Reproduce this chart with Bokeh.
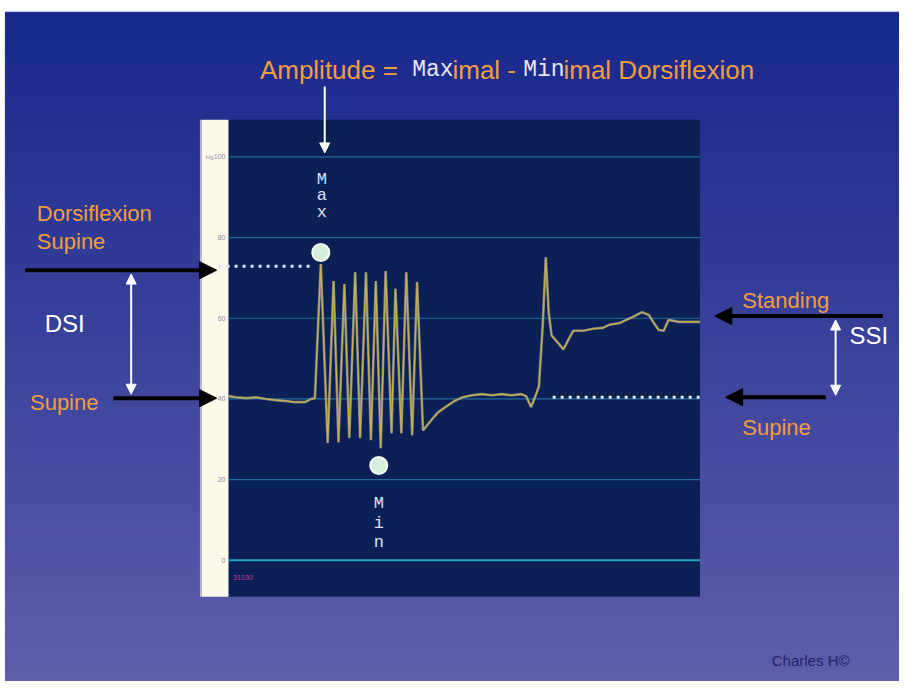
import numpy as np
from bokeh.plotting import figure
from bokeh.models import Range1d, Arrow, NormalHead
from bokeh.core.properties import value
from bokeh.embed import file_html
from bokeh.resources import INLINE

# ---------------- data ----------------
time_s = [0, 2, 4.5, 7, 9.5, 12, 14.5, 17, 19.5, 21,
          22, 23.5, 25.25, 26.75, 28, 29.5, 30.75, 32.25, 33.5, 35,
          36.25, 37.5, 38.75, 40, 41.5, 42.5, 44, 45.25, 46.75, 48,
          49.5, 51.5, 53.25, 55.25, 57.5, 59.5, 62, 64.5, 67, 69.5,
          72, 74.5, 75.75, 77, 78, 79, 80, 80.75, 81.5, 82.25,
          83.75, 85.25, 86.5, 87.75, 90.25, 92.75, 95.25, 97, 99.5, 101.25,
          103.25, 105.25, 107, 108.25, 109.5, 110.75, 112, 114.5, 117, 120]
pressure = [40.7, 40.4, 40.2, 40.4, 40.0, 39.7, 39.5, 39.2, 39.2, 40.0,
            40.2, 73.4, 29.1, 69.2, 29.3, 68.5, 30.3, 71.4, 30.3, 71.4,
            29.8, 69.2, 27.8, 71.7, 31.5, 67.3, 31.5, 71.4, 31.0, 69.0,
            32.2, 34.6, 36.6, 38.0, 39.5, 40.4, 40.9, 41.2, 40.9, 41.2,
            40.9, 41.2, 40.7, 38.0, 40.4, 43.1, 58.8, 75.1, 61.3, 55.7,
            54.0, 52.3, 54.7, 56.9, 56.9, 57.4, 57.6, 58.4, 58.8, 59.6,
            60.5, 61.5, 60.8, 58.8, 57.1, 56.9, 59.6, 59.1, 59.1, 59.1]

tick_values = [0, 20, 40, 60, 80, 100]
tick_labels = ["0", "20", "40", "60", "80", "100"]

marker_labels = ["Max", "Min"]
marker_t = [23.5, 38.25]
marker_v = [76.3, 23.5]

level_dorsiflexion_supine = 72.9
level_supine = 40.4
level_standing = 60.5

time_min, time_max = 0, 120
value_min, value_max = -9.0, 109.2

# ---------------- layout helpers (slide pixel -> data) ----------------
def T(px):
    return (px - 232) / 4.0

def V(py):
    return (573 - py) / 4.13

W, H = 899, 681
p = figure(width=W, height=H, output_backend="svg", toolbar_location=None,
           x_range=Range1d(T(0), T(915)), y_range=Range1d(V(697), V(0)),
           min_border=0, background_fill_color="white", border_fill_color="white")
p.axis.visible = False
p.grid.visible = False
p.outline_line_color = None

# slide background gradient
n = 80
edges = np.linspace(V(12), V(697) - 1, n + 1)
c_top = np.array([24, 40, 140])
c_bot = np.array([94, 94, 172])
cols = []
for i in range(n):
    f = i / (n - 1)
    c = (c_top * (1 - f) + c_bot * f).astype(int)
    cols.append("#%02x%02x%02x" % tuple(c))
p.quad(left=T(5), right=T(915) + 2, top=edges[:-1], bottom=edges[1:],
       fill_color=cols, line_color=cols, line_width=1)

# chart panel
p.quad(left=time_min, right=time_max, top=value_max, bottom=value_min,
       fill_color="#0b2155", line_color=None)
p.quad(left=T(205), right=time_min, top=value_max, bottom=value_min,
       fill_color="#fdf9e8", line_color=None)
p.segment(x0=T(204), y0=value_max, x1=T(204), y1=value_min,
          line_color="#b8b8c8", line_width=2)

# grid lines
grid_vals = [v for v in tick_values if v > 0]
p.segment(x0=[time_min] * len(grid_vals), y0=grid_vals,
          x1=[time_max] * len(grid_vals), y1=grid_vals,
          line_color="#2680b0", line_width=1.2, line_alpha=0.8)
p.segment(x0=[time_min], y0=[tick_values[0]], x1=[time_max], y1=[tick_values[0]],
          line_color="#1fa3c4", line_width=2)

# tick labels in the cream strip
p.text(x=[T(229)] * len(tick_values), y=tick_values, text=tick_labels,
       text_font=value("Liberation Sans"), text_font_size="7px",
       text_color="#8a88a8", text_align="right", text_baseline="middle")
p.text(x=[T(209)], y=[tick_values[-1]], text=["Hg"],
       text_font=value("Liberation Sans"), text_font_size="6px",
       text_color="#8a88a8", text_align="left", text_baseline="middle")
p.text(x=[T(237)], y=[V(591)], text=["31030"],
       text_font=value("Liberation Sans"), text_font_size="7px",
       text_color="#c03c9c", text_align="left", text_baseline="middle")

# dotted reference levels
dot = dict(line_color="#dde6ff", line_width=3, line_dash="3 5")
p.line(x=[T(222), T(318)], y=[level_dorsiflexion_supine] * 2, **dot)
p.line(x=[T(562), time_max], y=[level_supine] * 2, **dot)

# trace
p.line(time_s, pressure, line_color="#8c8c86", line_width=2.6, line_alpha=0.9)
p.line(time_s, pressure, line_color="#c8b04c", line_width=1.2)

# Max / Min markers
p.scatter(marker_t, marker_v, size=17, fill_color="#d6eedc",
          line_color="#f4fff6", line_width=2)

mono = dict(text_font=value("Liberation Mono"), text_font_size="17px",
            text_color="#dde2f4", text_align="center", text_baseline="middle")
for i, ch in enumerate(marker_labels[0]):
    p.text(x=[T(327)], y=[V(183 + 17 * i)], text=[ch], **mono)
for i, ch in enumerate(marker_labels[1]):
    p.text(x=[T(385)], y=[V(515 + 20 * i)], text=[ch], **mono)

# title line
orange = "#f29d3c"
title_y = V(71)
sans = dict(text_font=value("Liberation Sans"), text_font_size="26px",
            text_baseline="middle", text_align="left")
monot = dict(text_font=value("Liberation Mono"), text_font_size="23px",
             text_baseline="middle", text_align="left")
p.text(x=[T(264)], y=[title_y], text=["Amplitude ="], text_color=orange, **sans)
p.text(x=[T(419)], y=[title_y], text=["Max"], text_color="#e6e8f6", **monot)
p.text(x=[T(460)], y=[title_y], text=["imal -"], text_color=orange, **sans)
p.text(x=[T(532)], y=[title_y], text=["Min"], text_color="#e6e8f6", **monot)
p.text(x=[T(573)], y=[title_y], text=["imal Dorsiflexion"], text_color=orange, **sans)

# side labels
lab = dict(text_font=value("Liberation Sans"), text_font_size="22px",
           text_baseline="middle", text_align="left")
p.text(x=[T(37), T(37), T(30), T(755), T(755)],
       y=[V(218), V(247), V(411), V(307), V(437)],
       text=["Dorsiflexion", "Supine", "Supine", "Standing", "Supine"],
       text_color=orange, **lab)
big = dict(text_font=value("Liberation Sans"), text_font_size="24px",
           text_baseline="middle", text_align="left", text_color="white")
p.text(x=[T(45), T(864)], y=[V(331), V(343)], text=["DSI", "SSI"], **big)
p.text(x=[T(785)], y=[V(676)], text=["Charles H©"],
       text_font=value("Liberation Sans"), text_font_size="15px",
       text_color="#1e2468", text_baseline="middle", text_align="left")

# arrows
def black_arrow(x0, x1, y):
    p.add_layout(Arrow(end=NormalHead(size=17, fill_color="black", line_color="black"),
                       x_start=T(x0), y_start=V(y), x_end=T(x1), y_end=V(y),
                       line_color="black", line_width=4))

black_arrow(25, 220, 276)
black_arrow(115, 220, 407)
black_arrow(898, 727, 323)
black_arrow(840, 738, 406)

def white_arrow(x, y0, y1, double=True):
    head = lambda: NormalHead(size=10, fill_color="white", line_color="white")
    p.add_layout(Arrow(start=head() if double else None, end=head(),
                       x_start=T(x), y_start=V(y0), x_end=T(x), y_end=V(y1),
                       line_color="white", line_width=2))

white_arrow(133, 280, 403)
white_arrow(850, 327, 404)
white_arrow(330, 88, 156, double=False)

open("out.html", "w").write(file_html(p, INLINE))
